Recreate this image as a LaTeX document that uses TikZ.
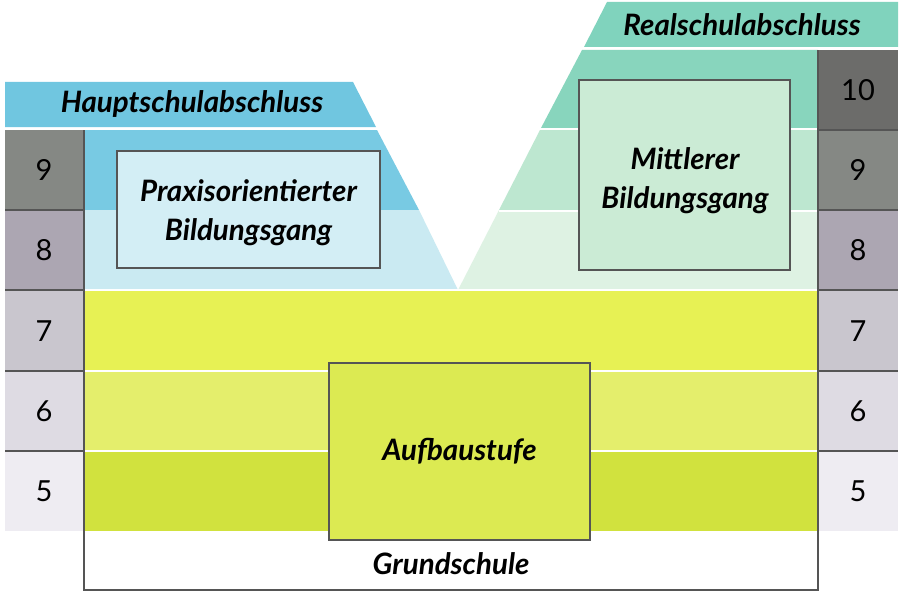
\documentclass[tikz,border=0pt]{standalone}
\usepackage{fontspec}
\setmainfont{Lato}
\definecolor{hsHead}{HTML}{70C6E0}
\definecolor{hsNine}{HTML}{78CAE3}
\definecolor{hsEight}{HTML}{CAEAF2}
\definecolor{hsBox}{HTML}{D3EEF5}
\definecolor{rsHead}{HTML}{80D3BD}
\definecolor{rsTen}{HTML}{88D5BD}
\definecolor{rsNine}{HTML}{BDE7D0}
\definecolor{rsEight}{HTML}{DEF2E3}
\definecolor{rsBox}{HTML}{CBEBD5}
\definecolor{ySeven}{HTML}{E7F154}
\definecolor{ySix}{HTML}{E4EE6C}
\definecolor{yFive}{HTML}{D1E23E}
\definecolor{yBox}{HTML}{DCEA52}
\definecolor{frameGray}{HTML}{555555}
\definecolor{gTen}{HTML}{6C6C6A}
\definecolor{gNine}{HTML}{858884}
\definecolor{gEight}{HTML}{ACA6B2}
\definecolor{gSeven}{HTML}{C9C6CE}
\definecolor{gSix}{HTML}{DEDBE3}
\definecolor{gFive}{HTML}{EEECF2}
\tikzset{
  lbl/.style={font=\bfseries\itshape\fontsize{29.5}{39}\selectfont, text=black, align=center, inner sep=0pt},
  num/.style={font=\fontsize{29}{34}\selectfont, text=black, inner sep=0pt},
  boxframe/.style={draw=frameGray, line width=1.6pt, inner sep=0pt},
  sep/.style={draw=frameGray, line width=1.2pt},
  whitesep/.style={draw=white, line width=2pt}
}
\begin{document}
\begin{tikzpicture}[x=1pt,y=-1pt]
\useasboundingbox (0,0) rectangle (900,594);
\fill[white] (0,0) rectangle (900,594);
% left shape (Hauptschule)
\fill[hsHead] (5,82) -- (353,82) -- (376,127) -- (5,127) -- cycle;
\fill[hsNine] (84,130) -- (377,130) -- (419,210) -- (84,210) -- cycle;
\fill[hsEight] (84,210) -- (419,210) -- (459,292) -- (84,292) -- cycle;
% right shape (Realschule)
\fill[rsHead] (607,2) -- (898,2) -- (898,47) -- (584,47) -- cycle;
\fill[rsTen] (582,50) -- (818,50) -- (818,128) -- (541,128) -- cycle;
\fill[rsNine] (540,130) -- (818,130) -- (818,210) -- (499,210) -- cycle;
\fill[rsEight] (499,210) -- (818,210) -- (818,292) -- (457,292) -- cycle;
\draw[whitesep] (540,129) -- (818,129);
\draw[whitesep] (499,210.5) -- (818,210.5);
% yellow bands
\fill[ySeven] (84,290) rectangle (818,371);
\fill[ySix] (84,371) rectangle (818,451);
\fill[yFive] (84,451) rectangle (818,531);
\draw[whitesep] (84,290) -- (818,290);
\draw[whitesep] (84,371) -- (818,371);
\draw[whitesep] (84,451) -- (818,451);
% number columns
\fill[gNine] (5,130) rectangle (84,210);
\fill[gEight] (5,210) rectangle (84,290);
\fill[gSeven] (5,290) rectangle (84,371);
\fill[gSix] (5,371) rectangle (84,451);
\fill[gFive] (5,451) rectangle (84,531);
\fill[gTen] (818,50) rectangle (898,130);
\fill[gNine] (818,130) rectangle (898,210);
\fill[gEight] (818,210) rectangle (898,290);
\fill[gSeven] (818,290) rectangle (898,371);
\fill[gSix] (818,371) rectangle (898,451);
\fill[gFive] (818,451) rectangle (898,531);
\foreach \yy in {210,290,371,451}{
  \draw[sep] (5,\yy) -- (84,\yy);
  \draw[sep] (818,\yy) -- (898,\yy);
}
\draw[sep] (818,130) -- (898,130);
% frame
\draw[sep] (84,130) -- (84,590) -- (818,590) -- (818,50);
% boxes
\node[boxframe, fill=hsBox, minimum width=263pt, minimum height=117pt] (praxis) at (248.5,209.5) {};
\node[lbl] (praxisT) at (248.5,213) {Praxisorientierter\\Bildungsgang};
\node[boxframe, fill=rsBox, minimum width=211pt, minimum height=190pt] (mittel) at (684.5,175) {};
\node[lbl] (mittelT) at (685,181) {Mittlerer\\Bildungsgang};
\node[boxframe, fill=yBox, minimum width=261pt, minimum height=177pt] (aufbau) at (459.5,451.5) {};
\node[lbl] (aufbauT) at (aufbau.center) {Aufbaustufe};
% headings
\node[lbl] (haupt) at (192,104) {Hauptschulabschluss};
\node[lbl] (real) at (742,25) {Realschulabschluss};
\node[lbl] (grund) at (451,564) {Grundschule};
% numbers
\node[num] (l9) at (44,170) {9};
\node[num] (l8) at (44,250) {8};
\node[num] (l7) at (44,331) {7};
\node[num] (l6) at (44,411) {6};
\node[num] (l5) at (44,491) {5};
\node[num] (r10) at (858,90) {10};
\node[num] (r9) at (858,170) {9};
\node[num] (r8) at (858,250) {8};
\node[num] (r7) at (858,331) {7};
\node[num] (r6) at (858,411) {6};
\node[num] (r5) at (858,491) {5};
\end{tikzpicture}
\end{document}
